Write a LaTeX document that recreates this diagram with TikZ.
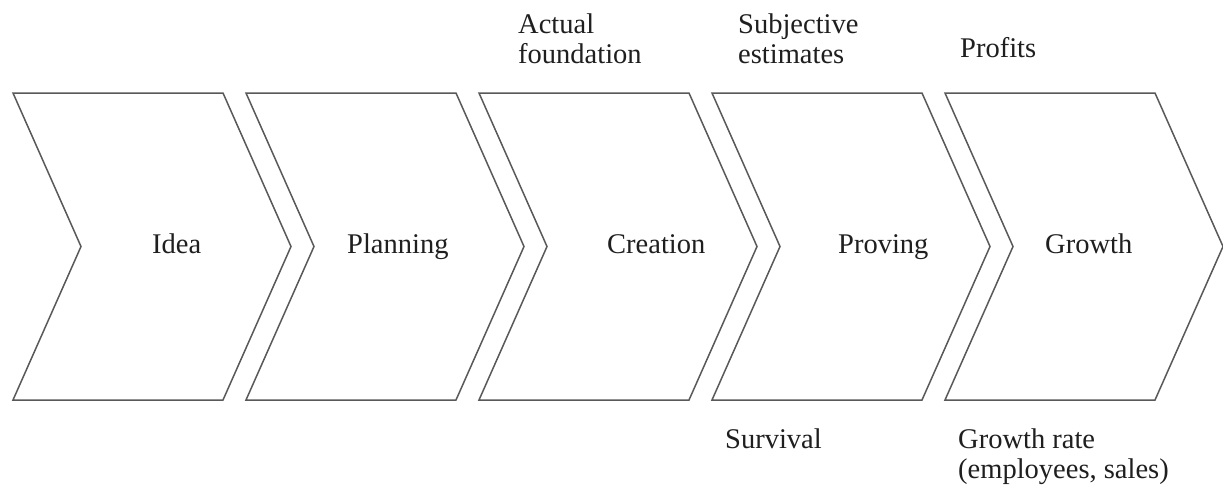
\documentclass[tikz,border=0pt]{standalone}
\usepackage{fontspec}
\setmainfont{Liberation Serif}
\begin{document}
\begin{tikzpicture}[x=1pt,y=-1pt,
  chev/.style={draw=black!65,line width=1.5pt,line join=miter,fill=white},
  lbl/.style={inner sep=0pt,anchor=base west,text=black!88,align=left,
    font=\fontsize{28.5}{30}\selectfont}]
\useasboundingbox[fill=white] (0,0) rectangle (1223,488);
\foreach \i in {0,...,4}{
  \pgfmathsetmacro{\xo}{13+233*\i}
  \draw[chev] (\xo,93) -- ++(210,0) -- ++(68,153.5) -- ++(-68,153.5)
     -- ++(-210,0) -- ++(68,-153.5) -- cycle;
}
\node[lbl] (idea) at (152,253) {Idea};
\node[lbl] (planning) at (347,253) {Planning};
\node[lbl] (creation) at (607,253) {Creation};
\node[lbl] (proving) at (838,253) {Proving};
\node[lbl] (growth) at (1045,253) {Growth};
\node[lbl] (actual) at (518,63) {Actual\\foundation};
\node[lbl] (subj) at (738,63) {Subjective\\estimates};
\node[lbl] (profits) at (960,57) {Profits};
\node[lbl] (survival) at (725,448) {Survival};
\node[lbl] (grate) at (958,478) {Growth rate\\(employees, sales)};
\end{tikzpicture}
\end{document}
